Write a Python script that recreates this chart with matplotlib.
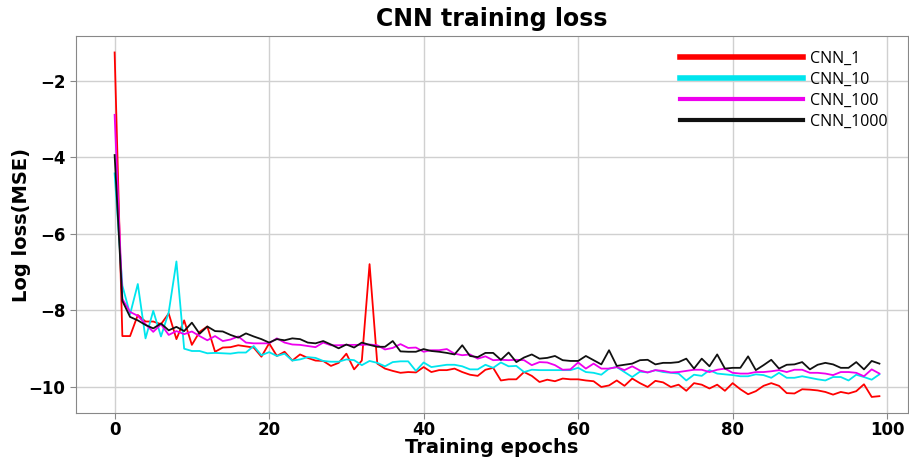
import matplotlib
matplotlib.use("Agg")
import matplotlib.pyplot as plt
import numpy as np

epochs = np.arange(100)

cnn_1 = [
    -1.26, -8.67, -8.67, -8.12, -8.29, -8.29, -8.36, -8.08, -8.75, -8.26,
    -8.90, -8.56, -8.42, -9.08, -8.97, -8.96, -8.91, -8.94, -8.97, -9.21,
    -8.86, -9.19, -9.08, -9.31, -9.15, -9.24, -9.31, -9.32, -9.45, -9.37,
    -9.13, -9.54, -9.31, -6.79, -9.39, -9.52, -9.58, -9.63, -9.61, -9.62,
    -9.48, -9.61, -9.56, -9.56, -9.52, -9.61, -9.68, -9.71, -9.55, -9.50,
    -9.83, -9.80, -9.80, -9.61, -9.71, -9.87, -9.81, -9.85, -9.78, -9.80,
    -9.80, -9.83, -9.85, -10.00, -9.96, -9.83, -9.97, -9.78, -9.90, -10.00,
    -9.84, -9.88, -10.00, -9.94, -10.10, -9.90, -9.94, -10.04, -9.94, -10.10,
    -9.90, -10.06, -10.19, -10.11, -9.97, -9.90, -9.97, -10.16, -10.17, -10.06,
    -10.07, -10.09, -10.13, -10.20, -10.13, -10.17, -10.11, -9.93, -10.26, -10.24,
]

cnn_10 = [
    -4.42, -7.35, -8.10, -7.31, -8.73, -8.01, -8.68, -8.05, -6.72, -9.00,
    -9.06, -9.06, -9.12, -9.11, -9.12, -9.13, -9.10, -9.10, -8.93, -9.17,
    -9.09, -9.19, -9.13, -9.31, -9.28, -9.22, -9.24, -9.32, -9.34, -9.34,
    -9.28, -9.30, -9.43, -9.32, -9.37, -9.46, -9.35, -9.33, -9.33, -9.58,
    -9.36, -9.48, -9.45, -9.42, -9.42, -9.46, -9.54, -9.54, -9.42, -9.50,
    -9.36, -9.46, -9.45, -9.61, -9.55, -9.56, -9.56, -9.56, -9.56, -9.56,
    -9.50, -9.61, -9.63, -9.68, -9.52, -9.48, -9.61, -9.74, -9.60, -9.62,
    -9.56, -9.61, -9.63, -9.65, -9.83, -9.68, -9.71, -9.56, -9.65, -9.67,
    -9.69, -9.72, -9.72, -9.67, -9.69, -9.76, -9.63, -9.76, -9.76, -9.72,
    -9.76, -9.80, -9.83, -9.74, -9.74, -9.83, -9.68, -9.74, -9.81, -9.67,
]

cnn_100 = [
    -2.89, -7.70, -8.04, -8.14, -8.36, -8.56, -8.36, -8.64, -8.54, -8.62,
    -8.55, -8.67, -8.78, -8.67, -8.80, -8.76, -8.68, -8.84, -8.86, -8.86,
    -8.86, -8.73, -8.84, -8.89, -8.90, -8.93, -8.96, -8.84, -8.91, -8.91,
    -8.90, -8.90, -8.90, -8.89, -8.91, -9.02, -8.98, -8.88, -8.98, -8.97,
    -9.08, -9.04, -9.04, -9.01, -9.13, -9.17, -9.15, -9.26, -9.20, -9.30,
    -9.29, -9.30, -9.29, -9.30, -9.43, -9.35, -9.36, -9.43, -9.55, -9.54,
    -9.36, -9.52, -9.39, -9.52, -9.52, -9.48, -9.56, -9.46, -9.57, -9.62,
    -9.56, -9.58, -9.62, -9.61, -9.58, -9.55, -9.55, -9.61, -9.55, -9.52,
    -9.63, -9.65, -9.65, -9.61, -9.61, -9.59, -9.56, -9.61, -9.55, -9.55,
    -9.63, -9.63, -9.65, -9.69, -9.61, -9.61, -9.63, -9.72, -9.54, -9.65,
]

cnn_1000 = [
    -3.94, -7.75, -8.17, -8.26, -8.38, -8.47, -8.34, -8.52, -8.43, -8.54,
    -8.32, -8.61, -8.42, -8.54, -8.55, -8.64, -8.71, -8.60, -8.68, -8.75,
    -8.84, -8.75, -8.78, -8.73, -8.75, -8.84, -8.86, -8.80, -8.89, -8.99,
    -8.89, -8.97, -8.84, -8.90, -8.95, -8.95, -8.80, -9.07, -9.08, -9.08,
    -9.01, -9.06, -9.08, -9.11, -9.15, -8.91, -9.19, -9.22, -9.11, -9.11,
    -9.29, -9.10, -9.35, -9.23, -9.15, -9.26, -9.24, -9.19, -9.30, -9.32,
    -9.32, -9.19, -9.30, -9.41, -9.04, -9.45, -9.42, -9.39, -9.30, -9.29,
    -9.41, -9.37, -9.37, -9.35, -9.26, -9.52, -9.26, -9.46, -9.15, -9.52,
    -9.50, -9.50, -9.20, -9.56, -9.43, -9.29, -9.52, -9.42, -9.41, -9.35,
    -9.54, -9.42, -9.37, -9.41, -9.50, -9.50, -9.35, -9.54, -9.32, -9.39,
]

series = [
    ("CNN_1", cnn_1, "#ff0000", 4.0),
    ("CNN_10", cnn_10, "#00e5ee", 4.0),
    ("CNN_100", cnn_100, "#ee00ee", 3.0),
    ("CNN_1000", cnn_1000, "#111111", 3.0),
]

fig = plt.figure(figsize=(9.09, 4.62), dpi=100)
ax = fig.add_axes([76 / 909, 1 - 413 / 462, 832 / 909, 377 / 462])

handles = []
for name, vals, col, leg_lw in series:
    ax.plot(epochs, vals, color=col, lw=1.3)
    handles.append(plt.Line2D([], [], color=col, lw=leg_lw, label=name))

ax.set_xlim(-5.0, 102.7)
ax.set_ylim(-10.68, -0.83)
ax.set_xticks([0, 20, 40, 60, 80, 100])
ax.set_yticks([-2, -4, -6, -8, -10])
ax.grid(True, color="#d0d0d0", lw=1.0)
ax.set_axisbelow(True)
for sp in ax.spines.values():
    sp.set_color("#888888")
ax.tick_params(colors="#888888", labelcolor="black", labelsize=12, length=4)
ax.tick_params(axis="x", pad=2)
for lab in ax.get_xticklabels() + ax.get_yticklabels():
    lab.set_fontweight("bold")

ax.set_title("CNN training loss", fontsize=17, fontweight="bold", pad=7)
ax.set_xlabel("Training epochs", fontsize=14, fontweight="bold", labelpad=-1)
ax.set_ylabel("Log loss(MSE)", fontsize=14, fontweight="bold", labelpad=-2)

leg = ax.legend(handles=handles, loc="upper right", bbox_to_anchor=(0.993, 1.0),
                frameon=False, handlelength=7.7, handletextpad=0.45,
                labelspacing=0.32, prop={"family": "Open Sans", "size": 11.5})

fig.savefig("out.png", dpi=100)
